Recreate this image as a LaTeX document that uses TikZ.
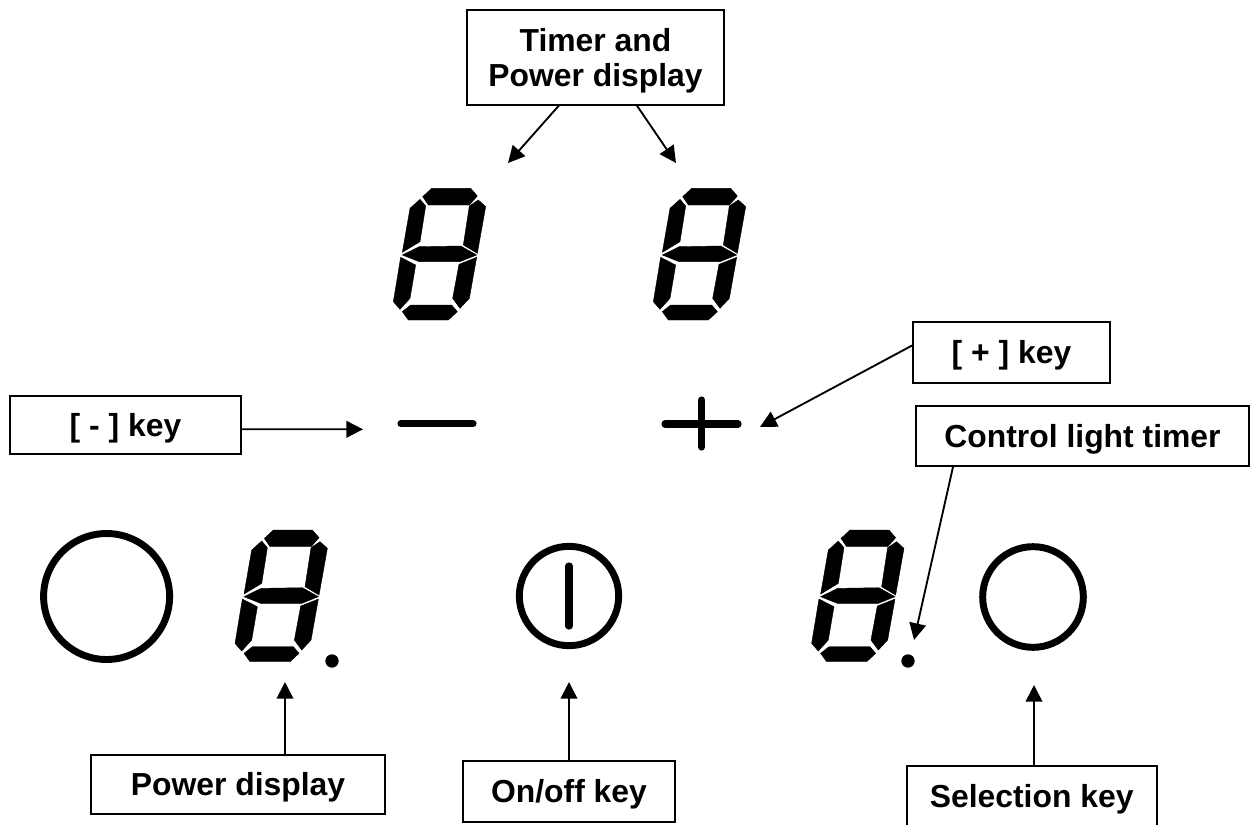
\documentclass[tikz,border=0pt]{standalone}
\usepackage{fontspec}
\setmainfont{Liberation Sans}
\usetikzlibrary{arrows.meta}
\tikzset{
  x=0.75pt,y=-0.75pt,
  lbl/.style={draw=black,line width=1.5pt,rectangle,inner sep=0pt,outer sep=0pt,fill=white,
    font=\fontsize{23.9pt}{25.7pt}\selectfont\bfseries,align=center,text height=17pt,text depth=0pt},
  arr/.style={line width=1.4pt,-{Triangle[length=12.5pt,width=12.5pt]}},
  ring/.style={circle,draw=black,line width=5.2pt,inner sep=0pt,outer sep=0pt},
  bar/.style={line width=5.4pt,line cap=round},
  seg/.style={fill=black,draw=black,line width=0.3pt},
  sevenseg/.pic={
    \begin{scope}[x=.25pt,y=-.25pt]
    \path[seg] (185,55)--(302,55)--(322,78)--(298,105)--(175,105)--(158,80)--cycle;
    \path[seg] (150,88)--(167,108)--(150,215)--(97,247)--(120,115)--cycle;
    \path[seg] (325,90)--(347,110)--(322,250)--(280,225)--(298,108)--cycle;
    \path[seg] (97,255)--(148,230)--(272,228)--(320,255)--(270,275)--(147,275)--cycle;
    \path[seg] (92,262)--(137,285)--(120,385)--(90,418)--(70,395)--cycle;
    \path[seg] (320,262)--(298,385)--(270,415)--(248,385)--(267,283)--cycle;
    \path[seg] (122,405)--(245,405)--(262,425)--(235,450)--(115,450)--(97,425)--cycle;
    \end{scope}
  }
}
\begin{document}
\begin{tikzpicture}
\useasboundingbox (0,0) rectangle (1255,824);
\fill[white] (0,0) rectangle (1255,824);

% digits
\pic at (370,170) {sevenseg};
\pic at (630,170) {sevenseg};
\pic at (211.7,511.7) {sevenseg};
\pic at (788.3,511.7) {sevenseg};
\node[circle,fill=black,minimum size=10pt,inner sep=0pt] (dotL) at (332,661) {};
\node[circle,fill=black,minimum size=10pt,inner sep=0pt] (dotR) at (908,661) {};

% keys
\coordinate (minusA) at (401,423.7); \coordinate (minusB) at (473,423.7);
\draw[bar] (minusA) -- (minusB);
\coordinate (plusA) at (665,424); \coordinate (plusB) at (738,424);
\coordinate (plusC) at (701.6,400); \coordinate (plusD) at (701.6,447);
\draw[bar] (plusA) -- (plusB);
\draw[bar] (plusC) -- (plusD);
\node[ring,minimum size=94.5pt] (ringL) at (106.6,596.5) {};
\node[ring,minimum size=74.5pt] (ringM) at (569,596) {};
\node[ring,minimum size=75.5pt] (ringR) at (1033,597) {};
\coordinate (onA) at (569,566); \coordinate (onB) at (569,626);
\draw[bar] (onA) -- (onB);

% labels
\node[lbl,text height=42.6pt,minimum width=192.5pt,minimum height=71.5pt] (timer) at (595.5,57.8) {Timer and\\Power display};
\node[lbl,minimum width=147.8pt,minimum height=45.8pt] (plus) at (1011.5,352.5) {[ + ] key};
\node[lbl,minimum width=173.2pt,minimum height=43.5pt] (minus) at (125.5,425) {[ - ] key};
\node[lbl,minimum width=249.8pt,minimum height=45.2pt] (control) at (1082.5,436) {Control light timer};
\node[lbl,minimum width=221pt,minimum height=44.7pt] (power) at (238,784.5) {Power display};
\node[lbl,minimum width=159pt,minimum height=45.8pt] (onoff) at (569,791.2) {On/off key};
\node[lbl,minimum width=187.5pt,minimum height=45pt] (select) at (1031.7,796) {Selection key};

% arrow targets
\coordinate (t1) at (508,163);
\coordinate (t2) at (676,163);
\coordinate (tplus) at (760,427);
\coordinate (tminus) at (363,429.3);
\coordinate (tctrl) at (914,640);
\coordinate (tpow) at (285,682);
\coordinate (tonoff) at (569,682);
\coordinate (tsel) at (1034,685);

\draw[arr] ([xshift=-27.4pt]timer.south) -- (t1);
\draw[arr] ([xshift=31pt]timer.south) -- (t2);
\draw[arr] ([yshift=5.6pt]plus.west) -- (tplus);
\draw[arr] ([yshift=-3.2pt]minus.east) -- (tminus);
\draw[arr] ([xshift=-97pt]control.south) -- (tctrl);
\draw[arr] (power.north -| tpow) -- (tpow);
\draw[arr] (onoff.north -| tonoff) -- (tonoff);
\draw[arr] (select.north -| tsel) -- (tsel);
\end{tikzpicture}
\end{document}
